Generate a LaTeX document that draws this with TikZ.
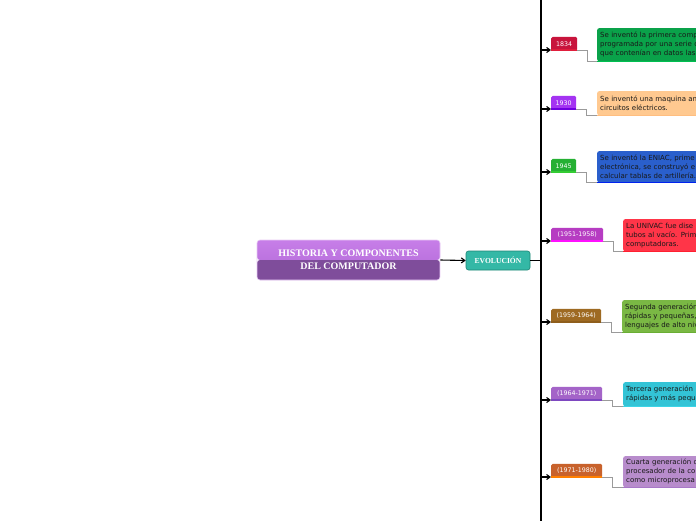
\documentclass[tikz,border=0pt]{standalone}
\usepackage{fontspec}
\setmainfont{DejaVu Sans}
\newfontfamily\titlefont{Liberation Serif}
\usetikzlibrary{arrows.meta}
\definecolor{mainTop}{HTML}{C77EE8}
\definecolor{mainMid}{HTML}{B068D6}
\definecolor{mainBot}{HTML}{7F4D9B}
\definecolor{evoFill}{HTML}{34B8A6}
\definecolor{evoLine}{HTML}{1E8676}
\definecolor{connGray}{HTML}{9A9A9A}
\definecolor{dA}{HTML}{C8143C}\definecolor{uA}{HTML}{E01E3C}\definecolor{bA}{HTML}{0AA24A}\definecolor{lA}{HTML}{00C050}
\definecolor{dB}{HTML}{A434F2}\definecolor{uB}{HTML}{7000E0}\definecolor{bB}{HTML}{FFC990}\definecolor{lB}{HTML}{FFBE80}
\definecolor{dC}{HTML}{25B033}\definecolor{uC}{HTML}{33CC33}\definecolor{bC}{HTML}{2A5FCC}\definecolor{lC}{HTML}{0022EE}
\definecolor{dD}{HTML}{B63CC2}\definecolor{uD}{HTML}{FF10FF}\definecolor{bD}{HTML}{FF3548}\definecolor{lD}{HTML}{FF2030}
\definecolor{dE}{HTML}{9E6A22}\definecolor{uE}{HTML}{8F5E1C}\definecolor{bE}{HTML}{7AB844}\definecolor{lE}{HTML}{6AAE34}
\definecolor{dF}{HTML}{A464C8}\definecolor{uF}{HTML}{7E48C0}\definecolor{bF}{HTML}{33C4D6}\definecolor{lF}{HTML}{3CD4E6}
\definecolor{dG}{HTML}{C8622C}\definecolor{uG}{HTML}{FF7F00}\definecolor{bG}{HTML}{B88CCC}\definecolor{lG}{HTML}{A878C8}
\tikzset{
  mainbox/.style={rounded corners=3pt, draw=mainTop!40, line width=0.6pt,
    minimum width=183pt, minimum height=40pt, inner sep=0pt, align=center,
    text=white, font=\titlefont\bfseries\fontsize{10}{13}\selectfont,
    path picture={
      \shade[top color=mainTop, bottom color=mainMid] (path picture bounding box.north west) rectangle (path picture bounding box.east);
      \fill[mainBot] (path picture bounding box.west) rectangle (path picture bounding box.south east);
    }},
  evobox/.style={rounded corners=2.5pt, fill=evoFill, draw=evoLine, line width=0.6pt,
    minimum width=64pt, minimum height=19pt, inner sep=0pt, text=white,
    font=\titlefont\bfseries\fontsize{7.6}{9}\selectfont},
  datebox/.style={rounded corners=1.5pt, anchor=south west, minimum height=14pt,
    inner sep=0pt, text=white, font=\fontsize{6.3}{7}\selectfont},
  tbox/.style={rounded corners=2pt, anchor=north west, text width=200pt, align=left,
    inner xsep=3pt, inner ysep=0pt, text=black!90, font=\fontsize{7}{9}\selectfont},
  spine/.style={line width=2pt, black},
  branch/.style={line width=1.1pt, black, -{Straight Barb[length=3.5pt,width=5pt]}},
  conn/.style={line width=0.9pt, connGray},
  uline/.style={line width=2pt},
  bline/.style={line width=1.5pt},
}
\begin{document}
\begin{tikzpicture}[x=1pt,y=-1pt]
\useasboundingbox (0,0) rectangle (696,520);
\clip (0,0) rectangle (696,520);
\fill[white] (0,0) rectangle (696,520);

\coordinate (top) at (541,-2);
\coordinate (bot) at (541,522);
\draw[spine] (top) -- (bot);

\node[mainbox] (root) at (348.5,260) {HISTORIA Y COMPONENTES\\DEL COMPUTADOR};
\node[evobox] (evo) at (498,260.5) {EVOLUCIÓN};
\draw[line width=1.1pt, -{Straight Barb[length=3.5pt,width=5pt]}] (root.east) -- (evo.west);
\draw[line width=1.8pt] (evo.east) -- (evo.east -| top);

% dates
\node[datebox, fill=dA, minimum width=26pt] (d1) at (551,51) {1834};
\node[datebox, fill=dB, minimum width=25pt] (d2) at (551,110) {1930};
\node[datebox, fill=dC, minimum width=25pt] (d3) at (551,173) {1945};
\node[datebox, fill=dD, minimum width=52pt] (d4) at (551,242) {(1951-1958)};
\node[datebox, fill=dE, minimum width=50pt] (d5) at (551,323) {(1959-1964)};
\node[datebox, fill=dF, minimum width=51pt] (d6) at (551,401) {(1964-1971)};
\node[datebox, fill=dG, minimum width=51pt] (d7) at (551,478) {(1971-1980)};

% underlines
\foreach \d/\c in {d1/uA,d2/uB,d3/uC,d4/uD,d5/uE,d6/uF,d7/uG}{
  \draw[uline, \c] ([yshift=1pt]\d.south west) -- ([yshift=1pt]\d.south east);
}

% text boxes
\node[tbox, fill=bA, minimum height=33pt] (b1) at (597,28)
  {Se inventó la primera comp\\programada por una serie d\\que contenían en datos las};
\node[tbox, fill=bB, minimum height=24pt] (b2) at (597,91)
  {Se inventó una maquina an\\circuitos eléctricos.};
\node[tbox, fill=bC, minimum height=31pt] (b3) at (597,151)
  {Se inventó la ENIAC, prime\\electrónica, se construyó e\\calcular tablas de artillería.};
\node[tbox, fill=bD, minimum height=32pt] (b4) at (623,219)
  {La UNIVAC fue dise\\tubos al vacío. Prim\\computadoras.};
\node[tbox, fill=bE, minimum height=32pt] (b5) at (622,300)
  {Segunda generación\\rápidas y pequeñas,\\lenguajes de alto niv};
\node[tbox, fill=bF, minimum height=24pt] (b6) at (623,382)
  {Tercera generación\\rápidas y más peque};
\node[tbox, fill=bG, minimum height=31pt] (b7) at (623,456)
  {Cuarta generación d\\procesador de la co\\como microprocesa};

% box bottom borders
\foreach \b/\c in {b1/lA,b2/lB,b3/lC,b4/lD,b5/lE,b6/lF,b7/lG}{
  \draw[bline, \c] (\b.south west) -- (\b.south east);
}

% branches from spine
\foreach \d in {d1,d2,d3,d4,d5,d6,d7}{
  \draw[branch] ([yshift=1pt]\d.south west -| top) -- ([yshift=1pt]\d.south west);
}
% connectors to boxes
\foreach \d/\b in {d1/b1,d2/b2,d3/b3,d4/b4,d5/b5,d6/b6,d7/b7}{
  \draw[conn] ([yshift=1pt]\d.south east) -- ++(10,0) |- (\b.south west);
}
\end{tikzpicture}
\end{document}
